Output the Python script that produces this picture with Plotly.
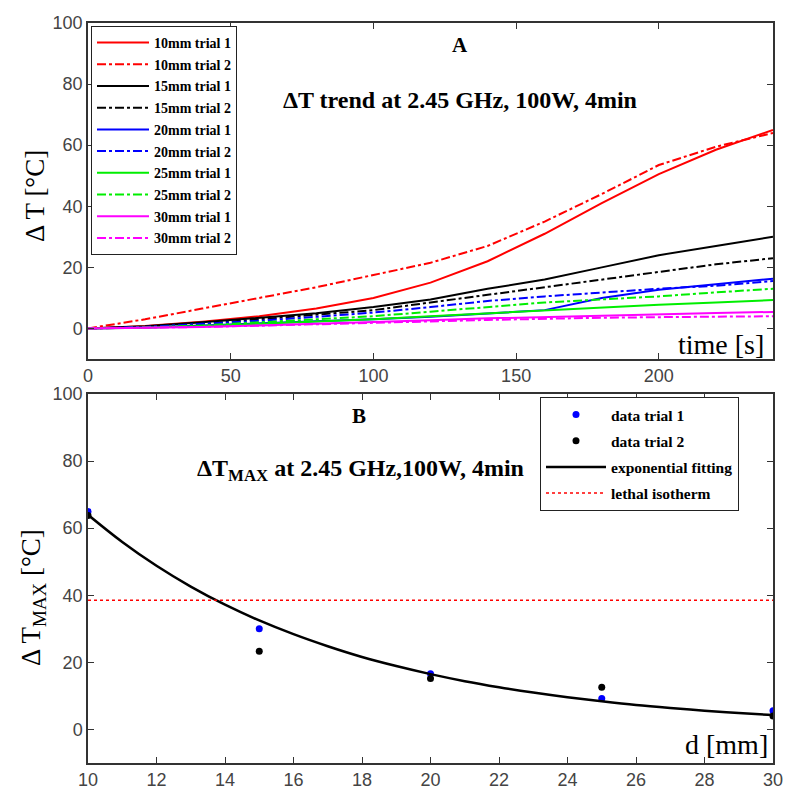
import plotly.graph_objects as go

# ---------------- data: panel A ----------------
time_s = [0, 20, 40, 60, 80, 100, 120, 140, 160, 180, 200, 220, 240]
mm10_t1 = [0, 0.8, 2.2, 4.0, 6.5, 10.0, 15.0, 22.0, 31.0, 41.0, 50.5, 58.5, 65.0]
mm10_t2 = [0, 3.0, 6.5, 10.0, 13.5, 17.5, 21.5, 27.0, 35.0, 44.0, 53.5, 59.5, 64.0]
mm15_t1 = [0, 0.7, 2.0, 3.5, 5.0, 7.0, 9.5, 13.0, 16.0, 20.0, 24.0, 27.0, 30.0]
mm15_t2 = [0, 0.5, 1.5, 3.0, 4.5, 6.0, 8.5, 11.0, 13.5, 16.0, 18.5, 21.0, 23.0]
mm20_t1 = [0, 0.3, 1.0, 1.6, 2.2, 3.0, 3.8, 4.8, 6.0, 10.0, 12.7, 14.5, 16.3]
mm20_t2 = [0, 0.5, 1.5, 2.5, 3.8, 5.2, 7.0, 9.0, 10.5, 11.8, 13.0, 14.0, 15.5]
mm25_t1 = [0, 0.2, 0.8, 1.5, 2.2, 3.0, 4.0, 5.0, 6.0, 7.0, 7.8, 8.5, 9.3]
mm25_t2 = [0, 0.3, 1.0, 2.0, 3.0, 4.0, 5.5, 7.0, 8.5, 9.5, 10.5, 11.8, 13.0]
mm30_t1 = [0, 0.2, 0.5, 1.0, 1.5, 2.0, 2.7, 3.3, 3.8, 4.3, 4.8, 5.1, 5.4]
mm30_t2 = [0, 0.2, 0.5, 0.9, 1.3, 1.8, 2.3, 2.8, 3.2, 3.5, 3.7, 3.8, 4.0]

series_names = ["10mm trial 1", "10mm trial 2", "15mm trial 1", "15mm trial 2",
                "20mm trial 1", "20mm trial 2", "25mm trial 1", "25mm trial 2",
                "30mm trial 1", "30mm trial 2"]
series_vals = [mm10_t1, mm10_t2, mm15_t1, mm15_t2, mm20_t1, mm20_t2,
               mm25_t1, mm25_t2, mm30_t1, mm30_t2]
series_colors = ["#ff0000", "#ff0000", "#000000", "#000000", "#0000ff", "#0000ff",
                 "#00ee00", "#00ee00", "#ff00ff", "#ff00ff"]

# ---------------- data: panel B ----------------
dist_mm = [10, 15, 20, 25, 30]
tmax_trial1 = [65.0, 30.0, 16.6, 9.2, 5.6]
tmax_trial2 = [63.8, 23.3, 15.2, 12.6, 4.0]
fit_d = list(range(10, 31))
fit_vals = [64.0, 55.9, 48.8, 42.6, 37.2, 32.5, 28.4, 24.8, 21.6, 18.9, 16.5,
            14.4, 12.6, 11.0, 9.6, 8.4, 7.3, 6.4, 5.6, 4.9, 4.3]
lethal_level = 38.5

# page body has an 8px margin: figure is placed at (8, 8)
OFF = 8
W, H = 792, 795
def px(x):
    return (x - OFF) / W
def py(y):
    return 1 - (y - OFF) / H

SERIF = "Liberation Serif, Times New Roman, serif"
SANS = "Liberation Sans, Arial, sans-serif"

fig = go.Figure()
for i, (name, vals, col) in enumerate(zip(series_names, series_vals, series_colors)):
    dash = "solid" if name.endswith("1") else "dashdot"
    fig.add_trace(go.Scatter(x=time_s, y=vals, mode="lines", name=name,
                             line=dict(color=col, width=2, dash=dash),
                             legendgroup=f"a{i}",
                             xaxis="x", yaxis="y", legend="legend"))

fig.add_trace(go.Scatter(x=dist_mm, y=tmax_trial1, mode="markers", name="data trial 1",
                         marker=dict(color="#0000ff", size=7), legendgroup="g1",
                         xaxis="x2", yaxis="y2", legend="legend2"))
fig.add_trace(go.Scatter(x=dist_mm, y=tmax_trial2, mode="markers", name="data trial 2",
                         marker=dict(color="#000000", size=7), legendgroup="g2",
                         xaxis="x2", yaxis="y2", legend="legend2"))
fig.add_trace(go.Scatter(x=fit_d, y=fit_vals, mode="lines", name="exponential fitting",
                         line=dict(color="#000000", width=2.5, shape="spline"),
                         legendgroup="g3", xaxis="x2", yaxis="y2", legend="legend2"))
fig.add_trace(go.Scatter(x=[10, 30], y=[lethal_level, lethal_level], mode="lines",
                         name="lethal isotherm", legendgroup="g4",
                         line=dict(color="#ff0000", width=1.5, dash="dot"),
                         xaxis="x2", yaxis="y2", legend="legend2"))

axis_common = dict(showline=True, linecolor="#333333", linewidth=1.5, mirror="ticks",
                   ticks="inside", ticklen=6, tickcolor="#333333", showgrid=False,
                   zeroline=False, automargin=False,
                   tickfont=dict(family=SANS, size=18, color="#444444"))

fig.update_layout(
    width=W, height=H,
    margin=dict(l=0, r=0, t=0, b=0, pad=0, autoexpand=False),
    paper_bgcolor="white", plot_bgcolor="white", showlegend=True,
    xaxis=dict(domain=[px(88), px(773)], range=[0, 240], anchor="y",
               tickvals=[0, 50, 100, 150, 200], **axis_common),
    yaxis=dict(domain=[py(359), py(23)], range=[-10, 100], anchor="x",
               tickvals=[0, 20, 40, 60, 80, 100], **axis_common),
    xaxis2=dict(domain=[px(88), px(773)], range=[10, 30], anchor="y2",
                tickvals=list(range(10, 31, 2)), **axis_common),
    yaxis2=dict(domain=[py(763), py(394)], range=[-10, 100], anchor="x2",
                tickvals=[0, 20, 40, 60, 80, 100], **axis_common),
    legend=dict(x=px(91), y=py(26), xanchor="left", yanchor="top",
                bgcolor="white", bordercolor="#222222", borderwidth=1,
                font=dict(family=SERIF, size=14, color="black", weight="bold"),
                tracegroupgap=0.5, itemwidth=52),
    legend2=dict(x=px(540), y=py(397), xanchor="left", yanchor="top",
                 bgcolor="white", bordercolor="#222222", borderwidth=1,
                 font=dict(family=SERIF, size=15.5, color="black", weight="bold"),
                 tracegroupgap=3, itemwidth=60),
)

anns = [
    dict(text="<b>A</b>", x=px(460), y=py(45), size=21),
    dict(text="<b>ΔT trend at 2.45 GHz, 100W, 4min</b>", x=px(460), y=py(100), size=24),
    dict(text="<b>B</b>", x=px(359), y=py(416), size=21),
    dict(text="<b>ΔT<sub>MAX</sub> at 2.45 GHz,100W, 4min</b>", x=px(360), y=py(470), size=24),
]
for a in anns:
    fig.add_annotation(text=a["text"], x=a["x"], y=a["y"], xref="paper", yref="paper",
                       showarrow=False, xanchor="center", yanchor="middle",
                       font=dict(family=SERIF, size=a["size"], color="black"))

fig.add_annotation(text="time [s]", x=px(766), y=py(344), xref="paper", yref="paper",
                   showarrow=False, xanchor="right", yanchor="middle",
                   font=dict(family=SERIF, size=28, color="black"))
fig.add_annotation(text="d [mm]", x=px(770), y=py(744), xref="paper", yref="paper",
                   showarrow=False, xanchor="right", yanchor="middle",
                   font=dict(family=SERIF, size=28, color="black"))
fig.add_annotation(text="Δ T [°C]", x=px(35), y=py(196), xref="paper", yref="paper",
                   showarrow=False, textangle=-90, xanchor="center", yanchor="middle",
                   font=dict(family=SERIF, size=27, color="black"))
fig.add_annotation(text="Δ T<sub>MAX</sub> [°C]", x=px(33), y=py(598), xref="paper", yref="paper",
                   showarrow=False, textangle=-90, xanchor="center", yanchor="middle",
                   font=dict(family=SERIF, size=27, color="black"))

fig.write_html("out.html")
